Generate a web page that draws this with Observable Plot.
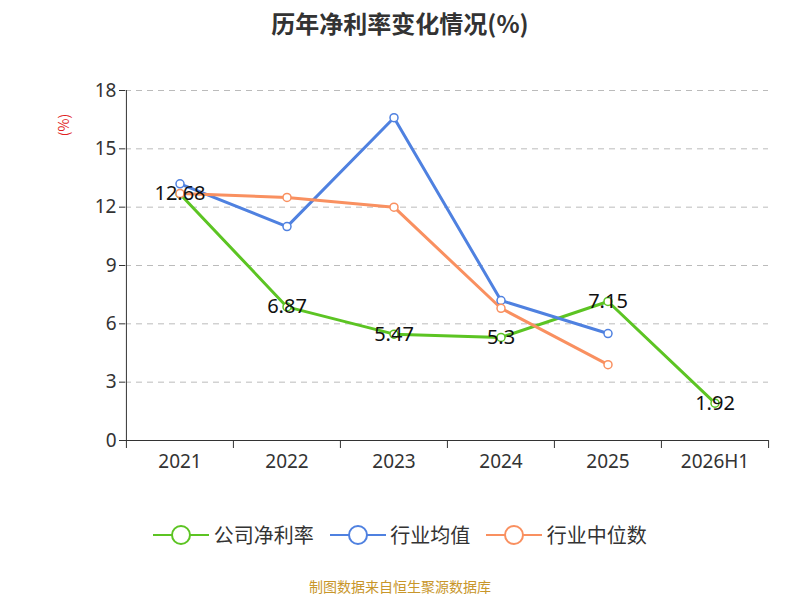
<!DOCTYPE html>
<html><head><meta charset="utf-8">
<script src="https://cdn.jsdelivr.net/npm/d3@7"></script>
<script src="https://cdn.jsdelivr.net/npm/@observablehq/plot@0.6"></script>
<style>
body{margin:0;width:800px;height:600px;font-family:"Noto Sans CJK SC","Noto Sans",sans-serif;background:#fff;position:relative}
#title{height:60px;line-height:46px;text-align:center;font-size:24px;font-weight:bold;color:#333}
#legend{position:absolute;top:520px;left:0;width:800px;text-align:center;font-size:20px;color:#333}
#legend span{display:inline-flex;align-items:center;margin:0 8px}
#cap{position:absolute;top:576px;width:800px;text-align:center;font-size:14px;color:#c8962a}
#ylab{position:absolute;left:52px;top:115px;color:#e02020;font-size:14px;transform:rotate(-90deg)}
</style></head><body>
<div id="title">历年净利率变化情况(%)</div>
<div id="chart"></div>
<div id="ylab">(%)</div>
<div id="legend"></div>
<div id="cap">制图数据来自恒生聚源数据库</div>
<script>
const years=["2021","2022","2023","2024","2025","2026H1"];
const company=[12.68,6.87,5.47,5.3,7.15,1.92];
const industryAvg=[13.2,11.0,16.6,7.2,5.5];
const industryMed=[12.7,12.5,12.0,6.8,3.9];
const yTicks=[0,3,6,9,12,15,18];
const series=[
 {name:"公司净利率",color:"#5cc423",vals:company},
 {name:"行业均值",color:"#4f81e0",vals:industryAvg},
 {name:"行业中位数",color:"#f99060",vals:industryMed}
];
const rows=[];
series.forEach(s=>s.vals.forEach((v,i)=>rows.push({s:s.name,x:years[i],y:v})));
const colors=series.map(s=>s.color), names=series.map(s=>s.name);
const compRows=company.map((v,i)=>({x:years[i],y:v}));
const bw=(800-125-32)/years.length;
const plot=Plot.plot({
 width:800,height:420,marginTop:30,marginBottom:40,marginLeft:125,marginRight:32,
 style:{fontSize:"19px",fontFamily:"Noto Sans, sans-serif",color:"#333"},
 x:{type:"band",domain:years,padding:0,label:null,tickSize:0,tickPadding:14},
 y:{domain:[0,18],ticks:yTicks,label:null,tickSize:6},
 color:{domain:names,range:colors},
 marks:[
  Plot.gridY(yTicks.filter(d=>d>0),{stroke:"#bbb",strokeOpacity:1,strokeDasharray:"6,5"}),
  Plot.ruleY([0],{stroke:"#333"}),
  Plot.ruleX([0],{x:()=>years[0],dx:-bw/2,stroke:"#333"}),
  Plot.ruleX(years,{x:d=>d,dx:-bw/2,y1:0,y2:0,insetBottom:-8,stroke:"#333"}),
  Plot.ruleX([years[years.length-1]],{dx:bw/2,y1:0,y2:0,insetBottom:-8,stroke:"#333"}),
  Plot.line(rows,{x:"x",y:"y",z:"s",stroke:"s",strokeWidth:3}),
  Plot.dot(rows,{x:"x",y:"y",stroke:"s",fill:"white",r:4,strokeWidth:1.5}),
  Plot.text(compRows,{x:"x",y:"y",text:d=>String(d.y),fill:"#111",fontSize:20})
 ]
});
document.getElementById("chart").appendChild(plot);
document.getElementById("legend").innerHTML=series.map(s=>`<span><svg width="56" height="24"><line x1="0" x2="56" y1="12" y2="12" stroke="${s.color}" stroke-width="2"/><circle cx="28" cy="12" r="9" fill="white" stroke="${s.color}" stroke-width="2"/></svg>&nbsp;${s.name}</span>`).join("");
</script></body></html>
